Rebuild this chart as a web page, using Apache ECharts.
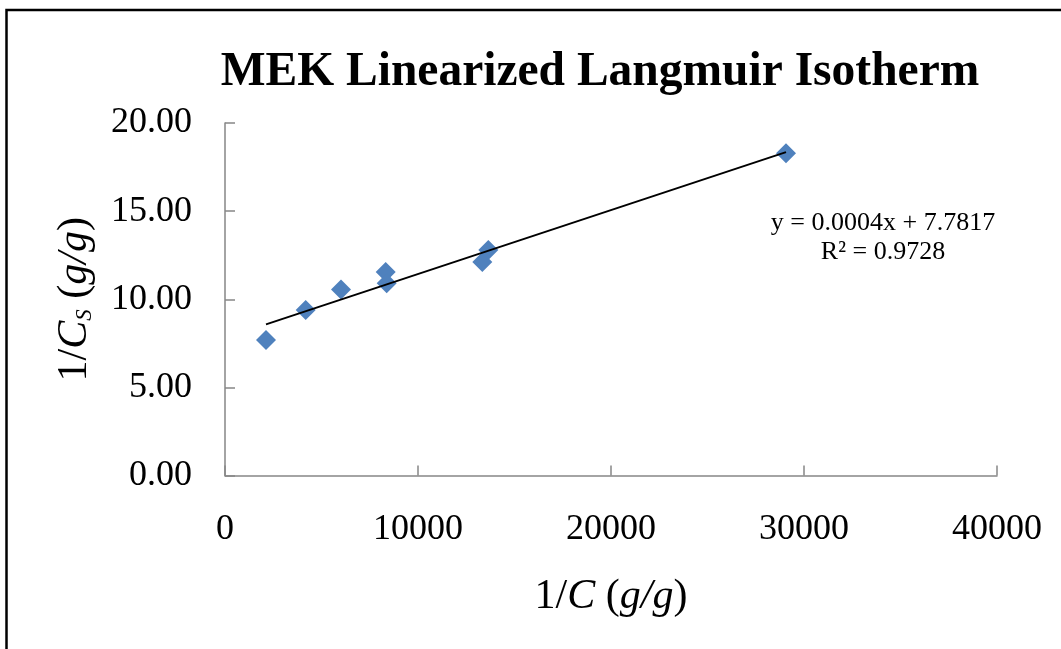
<!DOCTYPE html>
<html>
<head>
<meta charset="utf-8">
<script src="https://cdn.jsdelivr.net/npm/echarts@6/dist/echarts.min.js"></script>
<style>
html,body{margin:0;padding:0;background:#fff;}
#chart{width:1061px;height:649px;}
</style>
</head>
<body>
<div id="chart"></div>
<script>
// Data
const invC  = [2124, 4181, 6010, 8326, 8378, 13332, 13643, 29067];
const invCs = [7.69, 9.39, 10.56, 11.55, 10.91, 12.11, 12.79, 18.28];
const titleText = 'MEK Linearized Langmuir Isotherm';
const equationLines = ['y = 0.0004x + 7.7817', 'R² = 0.9728'];
const xMin = 0, xMax = 40000, xStep = 10000;
const yMin = 0, yMax = 20, yStep = 5;

// least-squares trend line between min and max x
const n = invC.length;
const mx = invC.reduce((a,b)=>a+b,0)/n;
const my = invCs.reduce((a,b)=>a+b,0)/n;
let sxy = 0, sxx = 0;
for (let i=0;i<n;i++){ sxy += (invC[i]-mx)*(invCs[i]-my); sxx += (invC[i]-mx)*(invC[i]-mx); }
const slope = sxy/sxx, intercept = my - slope*mx;
const x0 = Math.min(...invC), x1 = Math.max(...invC);
const trend = [[x0, intercept + slope*x0], [x1, intercept + slope*x1]];

const serif = '"Liberation Serif","Times New Roman",serif';
const chart = echarts.init(document.getElementById('chart'));
const axisGray = '#868686';
const nameRich = {
  n: {fontFamily: serif, fontSize: 42, lineHeight: 42, color: '#000'},
  i: {fontFamily: serif, fontSize: 42, lineHeight: 42, fontStyle: 'italic', color: '#000'},
  s: {fontFamily: serif, fontSize: 23, lineHeight: 28, fontStyle: 'italic', color: '#000', verticalAlign: 'bottom'}
};
chart.setOption({
  animation: false,
  backgroundColor: '#fff',
  title: {
    text: titleText,
    left: 595, top: 44, textAlign: 'center',
    textStyle: {fontFamily: serif, fontSize: 47.5, fontWeight: 'bold', color: '#000', lineHeight: 47}
  },
  grid: {left: 225, right: 64, top: 123, bottom: 173.5, containLabel: false},
  xAxis: {
    type: 'value', min: xMin, max: xMax, interval: xStep,
    name: '{n|1/}{i|C}{n| (}{i|g/g}{n|)}',
    nameLocation: 'middle', nameGap: 100,
    nameTextStyle: {rich: nameRich},
    axisLine: {show: true, lineStyle: {color: axisGray, width: 1.5}},
    axisTick: {show: true, inside: true, length: 10, lineStyle: {color: axisGray, width: 1.5}},
    axisLabel: {fontFamily: serif, fontSize: 36, color: '#000', margin: 36,
      formatter: v => String(v)},
    splitLine: {show: false}
  },
  yAxis: {
    type: 'value', min: yMin, max: yMax, interval: yStep,
    name: '{n|1/}{i|C}{s|S}{n| (}{i|g/g}{n|)}',
    nameLocation: 'middle', nameGap: 129,
    nameTextStyle: {rich: nameRich},
    axisLine: {show: true, lineStyle: {color: axisGray, width: 1.5}},
    axisTick: {show: true, inside: true, length: 10, lineStyle: {color: axisGray, width: 1.5}},
    axisLabel: {fontFamily: serif, fontSize: 36, color: '#000', margin: 33,
      formatter: v => v.toFixed(2)},
    splitLine: {show: false}
  },
  series: [
    {
      type: 'scatter', symbol: 'diamond', symbolSize: 20,
      itemStyle: {color: '#4f81bd', opacity: 1},
      data: invC.map((x,i)=>[x, invCs[i]]), z: 2
    },
    {
      type: 'line', data: trend, symbol: 'none', silent: true,
      lineStyle: {color: '#000', width: 2}, z: 3
    }
  ],
  graphic: [
    {type: 'rect', shape: {x: 6.5, y: 10, width: 2000, height: 2000},
     style: {fill: 'none', stroke: '#000', lineWidth: 2.5}, silent: true},
    {type: 'text', x: 883, y: 223,
     style: {text: equationLines[0], font: '26px ' + serif, fill: '#000', textAlign: 'center', textVerticalAlign: 'middle'}},
    {type: 'text', x: 883, y: 252,
     style: {text: equationLines[1], font: '26px ' + serif, fill: '#000', textAlign: 'center', textVerticalAlign: 'middle'}}
  ]
});
</script>
</body>
</html>
